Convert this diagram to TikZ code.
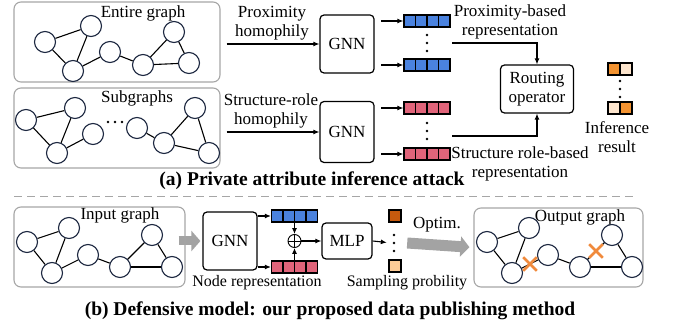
\documentclass[tikz,border=0pt]{standalone}
\usepackage{fontspec}
\setmainfont{Liberation Serif}
\usetikzlibrary{arrows.meta,calc,backgrounds,shapes.misc}

\definecolor{vtxline}{HTML}{1C2740}
\definecolor{boxgray}{HTML}{A6A6A6}
\definecolor{repblue}{HTML}{4A82DE}
\definecolor{repred}{HTML}{E0647A}
\definecolor{infdark}{HTML}{F39331}
\definecolor{inflight}{HTML}{FDE5CD}
\definecolor{probdark}{HTML}{C65A0E}
\definecolor{problight}{HTML}{FCCB96}
\definecolor{cutorange}{HTML}{F08A3C}
\definecolor{fatgray}{HTML}{A3A3A3}

\tikzset{
  vtx/.style={circle, draw=vtxline, line width=1.1pt, fill=white, minimum size=21pt, inner sep=0pt},
  edge/.style={line width=1.1pt},
  graphbox/.style={draw=boxgray, line width=1.1pt, rounded corners=7pt, inner sep=0pt},
  block/.style={draw, line width=1.2pt, rounded corners=4pt, align=center, inner sep=0pt,
    font=\fontsize{17}{19}\selectfont},
  lbl/.style={align=center, inner sep=0pt, font=\fontsize{17}{19}\selectfont},
  smalllbl/.style={align=center, inner sep=0pt, font=\fontsize{16}{18}\selectfont},
  caption/.style={inner sep=0pt, font=\bfseries\fontsize{19.5}{22}\selectfont},
  arr/.style={-{Latex[length=6pt,width=5pt]}, line width=1.1pt},
  fatarrow/.style={draw=fatgray, line width=#1, -{Triangle[length=9pt,width=20pt]}},
  bar/.style={draw, line width=1.2pt, fill=#1, minimum width=46pt, minimum height=12pt, inner sep=0pt,
    path picture={\foreach \k in {1,2,3}
      \draw[line width=1.2pt]
        ($(path picture bounding box.south west)!\k/4!(path picture bounding box.south east)$) --
        ($(path picture bounding box.north west)!\k/4!(path picture bounding box.north east)$);}},
  pair/.style 2 args={draw, line width=1.2pt, minimum width=24pt, minimum height=12pt, inner sep=0pt,
    path picture={
      \fill[#1] (path picture bounding box.south west) rectangle (path picture bounding box.north);
      \fill[#2] (path picture bounding box.south) rectangle (path picture bounding box.north east);
      \draw[line width=1.2pt] (path picture bounding box.south) -- (path picture bounding box.north);}},
  square/.style={draw, line width=1.2pt, fill=#1, minimum size=12pt, inner sep=0pt},
  vdotsnode/.style={minimum width=4pt, minimum height=22pt, inner sep=0pt,
    path picture={\foreach \k in {-1,0,1}
      \fill ($(path picture bounding box.center)+(0,\k*8)$) circle (1.4pt);}},
  hdotsnode/.style={minimum width=22pt, minimum height=4pt, inner sep=0pt,
    path picture={\foreach \k in {-1,0,1}
      \fill ($(path picture bounding box.center)+(\k*7,0)$) circle (1.3pt);}},
  oplus/.style={circle, draw, line width=0.9pt, minimum size=13pt, inner sep=0pt,
    path picture={\draw[line width=0.9pt]
      (path picture bounding box.north) -- (path picture bounding box.south)
      (path picture bounding box.west) -- (path picture bounding box.east);}},
  cut/.style={cross out, draw=cutorange, line width=2.6pt, minimum size=11pt, inner sep=0pt}
}

\begin{document}
\begin{tikzpicture}[x=1pt, y=-1pt]
\useasboundingbox (0,0) rectangle (673,331);

% (a) private attribute inference attack
\node[graphbox, minimum width=206pt, minimum height=80pt] (entire) at (117,42) {};
\node[lbl] (entirelbl) at (143,13) {Entire graph};
\foreach \n/\x/\y in {1/45/42, 2/91/26, 3/73/71, 4/110/52, 5/143/65, 6/174/32, 7/189/63}
  \node[vtx] (e\n) at (\x,\y) {};
\foreach \a/\b in {1/2, 1/3, 2/3, 3/4, 4/5, 5/6, 5/7, 6/7}
  \draw[edge] (e\a) -- (e\b);

\node[graphbox, minimum width=206pt, minimum height=80pt] (sub) at (117,128) {};
\node[lbl] (sublbl) at (137,98) {Subgraphs};
\foreach \n/\x/\y in {1/26/120, 2/75/108, 3/57/153, 4/93/134, 5/137/128, 6/164/143, 7/195/108, 8/209/153}
  \node[vtx] (s\n) at (\x,\y) {};
\foreach \a/\b in {1/2, 1/3, 2/3, 3/4, 5/6, 6/7, 6/8, 7/8}
  \draw[edge] (s\a) -- (s\b);
\node[hdotsnode] (subdots) at (115,122) {};

\node[block, minimum width=54pt, minimum height=58pt] (gnnA) at (347,44) {GNN};
\node[block, minimum width=54pt, minimum height=61pt] (gnnB) at (347,132) {GNN};
\node[lbl] (proxlbl) at (272,23) {Proximity\\homophily};
\node[lbl] (strlbl) at (271,111) {Structure-role\\homophily};
\draw[arr] ($(entire.east |- gnnA.west)+(6,0)$) -- (gnnA.west);
\draw[arr] ($(sub.east |- gnnB.west)+(6,0)$) -- (gnnB.west);

\node[bar=repblue] (blueA) at (427,21) {};
\node[vdotsnode] (bluedots) at (427,43) {};
\node[bar=repblue] (blueB) at (427,65) {};
\node[bar=repred] (redA) at (427,108) {};
\node[vdotsnode] (reddots) at (427,131) {};
\node[bar=repred] (redB) at (427,154) {};
\foreach \b in {blueA, blueB, redA, redB}
  \draw[arr] ($(\b.west)+(-22,0)$) -- (\b.west);

\node[block, minimum width=73pt, minimum height=48pt] (route) at (537,89) {Routing\\operator};
\coordinate (bluejoin) at (452,43);
\coordinate (redjoin) at (452,136);
\draw[arr] (bluejoin) -| (route.north);
\draw[arr] (redjoin) -| (route.south);
\node[lbl] (proxrep) at (510,22) {Proximity-based\\representation};
\node[lbl] (strrep) at (520,164) {Structure role-based\\representation};

\node[pair={infdark}{inflight}] (infA) at (620,69) {};
\node[vdotsnode] (infdots) at (620,89) {};
\node[pair={inflight}{infdark}] (infB) at (620,108) {};
\node[lbl] (inflbl) at (617,137) {Inference\\result};

\node[caption] (capA) at (312,181) {(a) Private attribute inference attack};
\draw[draw=boxgray, line width=1pt, dash pattern=on 8pt off 5pt] (14,197) -- (633,197);

% (b) defensive model
\node[graphbox, minimum width=171pt, minimum height=80pt] (inbox) at (99.5,247) {};
\node[lbl] (inlbl) at (120,215) {Input graph};
\node[graphbox, minimum width=169pt, minimum height=79pt] (outbox) at (558.5,247.5) {};
\node[lbl] (outlbl) at (580,217) {Output graph};
\foreach \n/\x/\y in {1/27/242, 2/69/228, 3/52/273, 4/88/255, 5/120/267, 6/152/235, 7/172/267}{
  \node[vtx] (b\n) at (\x,\y) {};
  \node[vtx] (o\n) at (\x+460,\y) {};
}
\foreach \a/\b in {1/2, 1/3, 2/3, 3/4, 4/5, 5/6, 5/7, 6/7}
  \draw[edge] (b\a) -- (b\b);
\foreach \a/\b in {1/2, 1/3, 2/3, 4/5, 5/7, 6/7}
  \draw[edge] (o\a) -- (o\b);
\draw[edge] (o3) -- node[cut] (cutA) {} (o4);
\draw[edge] (o5) -- node[cut] (cutB) {} (o6);

\node[block, minimum width=54pt, minimum height=58pt] (gnnC) at (230,241) {GNN};
\begin{scope}[on background layer]
  \draw[fatarrow=9pt, shorten >=2pt] ($(inbox.east |- gnnC.west)+(-7,0)$) -- (gnnC.west);
\end{scope}
\node[bar=repblue] (blueC) at (294.5,216) {};
\node[bar=repred] (redC) at (294.5,267) {};
\draw[arr] (gnnC.east |- blueC.west) -- (blueC.west);
\draw[arr] (gnnC.east |- redC.west) -- (redC.west);
\node[oplus] (sum) at (294.5,241) {};
\draw[arr] (blueC.south) -- (sum.north);
\draw[arr] (redC.north) -- (sum.south);
\node[block, minimum width=50pt, minimum height=36pt] (mlp) at (347,241) {MLP};
\draw[arr] (sum.east) -- (mlp.west);
\node[smalllbl] (noderep) at (257,283) {Node representation};

\node[square=probdark] (probA) at (395,216) {};
\node[vdotsnode] (probdots) at (394,243) {};
\node[square=problight] (probB) at (395,266) {};
\draw[arr, shorten >=5pt] (mlp.east) -- (probdots.west);
\node[smalllbl] (problbl) at (407,283) {Sampling probility};
\node[lbl] (optlbl) at (437,225) {Optim.};
\draw[fatarrow=11pt, shorten >=4pt] ($(probdots.east)+(11,0)$) -- (outbox.west);

\node[caption] (capB) at (330,311) {(b) Defensive model: our proposed data publishing method};
\end{tikzpicture}
\end{document}
